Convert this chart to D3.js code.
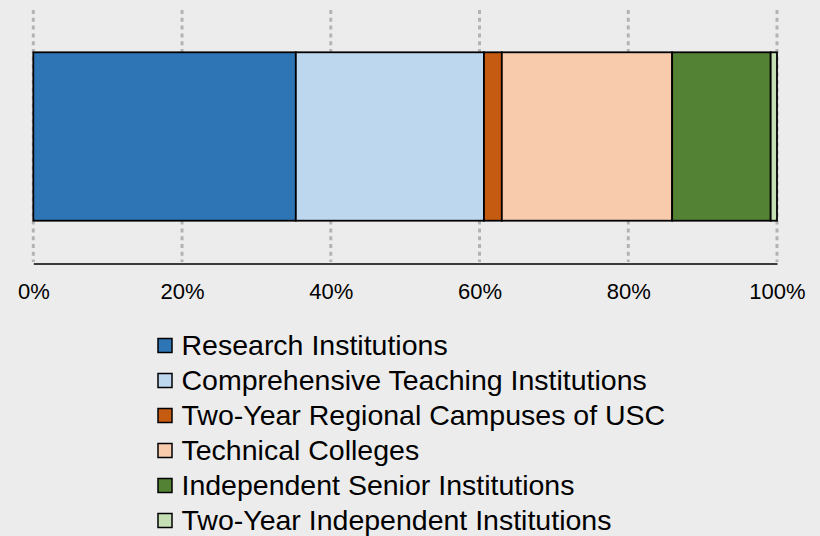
<!DOCTYPE html>
<html>
<head>
<meta charset="utf-8">
<script src="https://cdn.jsdelivr.net/npm/d3@7"></script>
<style>
  html, body { margin: 0; padding: 0; background: #ececec; }
  svg { display: block; font-family: "Liberation Sans", Arial, sans-serif; }
</style>
</head>
<body>
<svg id="chart" width="820" height="536"></svg>
<script>
// Share of enrollment by institution type (percent of total)
const categories = [
  "Research Institutions",
  "Comprehensive Teaching Institutions",
  "Two-Year Regional Campuses of USC",
  "Technical Colleges",
  "Independent Senior Institutions",
  "Two-Year Independent Institutions"
];
const shares = [35.3, 25.3, 2.4, 22.9, 13.25, 0.85];
const colors = ["#2e75b6", "#bdd7ee", "#c55a11", "#f8cbad", "#548235", "#c5e0b4"];
const tickValues = [0, 20, 40, 60, 80, 100];

const svg = d3.select("#chart");

const x = d3.scaleLinear().domain([0, 100]).range([33.3, 777]);

// dotted vertical gridlines
svg.append("g")
  .selectAll("line")
  .data(tickValues)
  .join("line")
  .attr("x1", d => x(d)).attr("x2", d => x(d))
  .attr("y1", 10).attr("y2", 262)
  .attr("stroke", "#b3b3b3")
  .attr("stroke-width", 3)
  .attr("stroke-dasharray", "4,3.8");

// stacked segments
let acc = 0;
const stack = shares.map((v, i) => {
  const s = { name: categories[i], start: acc, end: acc + v, color: colors[i] };
  acc += v;
  return s;
});

const barTop = 52.3, barBottom = 220.7;
svg.append("g")
  .selectAll("rect")
  .data(stack)
  .join("rect")
  .attr("x", d => x(d.start))
  .attr("width", d => x(d.end) - x(d.start))
  .attr("y", barTop)
  .attr("height", barBottom - barTop)
  .attr("fill", d => d.color)
  .attr("stroke", "#000")
  .attr("stroke-width", 1.8);

// x axis
const axis = d3.axisBottom(x)
  .tickValues(tickValues)
  .tickFormat(d => d + "%")
  .tickSize(0)
  .tickPadding(0);

const gAxis = svg.append("g")
  .attr("transform", "translate(0,263.5)")
  .call(axis);
gAxis.select(".domain").attr("stroke", "#000").attr("stroke-width", 1.6);
gAxis.selectAll("text")
  .attr("dy", null)
  .attr("y", 35.5)
  .attr("fill", "#000")
  .style("font-size", "22px")
  .style("font-family", "'Liberation Sans', Arial, sans-serif");

// legend
const legend = svg.append("g");
const rows = legend.selectAll("g")
  .data(stack)
  .join("g")
  .attr("transform", (d, i) => `translate(158,${345.5 + i * 35})`);
rows.append("rect")
  .attr("x", 0).attr("y", -7)
  .attr("width", 14).attr("height", 14)
  .attr("fill", d => d.color)
  .attr("stroke", "#000")
  .attr("stroke-width", 1.5);
rows.append("text")
  .attr("x", 23.5)
  .attr("y", 9.5)
  .style("font-size", "28.5px")
  .attr("fill", "#000")
  .text(d => d.name);
</script>
</body>
</html>
